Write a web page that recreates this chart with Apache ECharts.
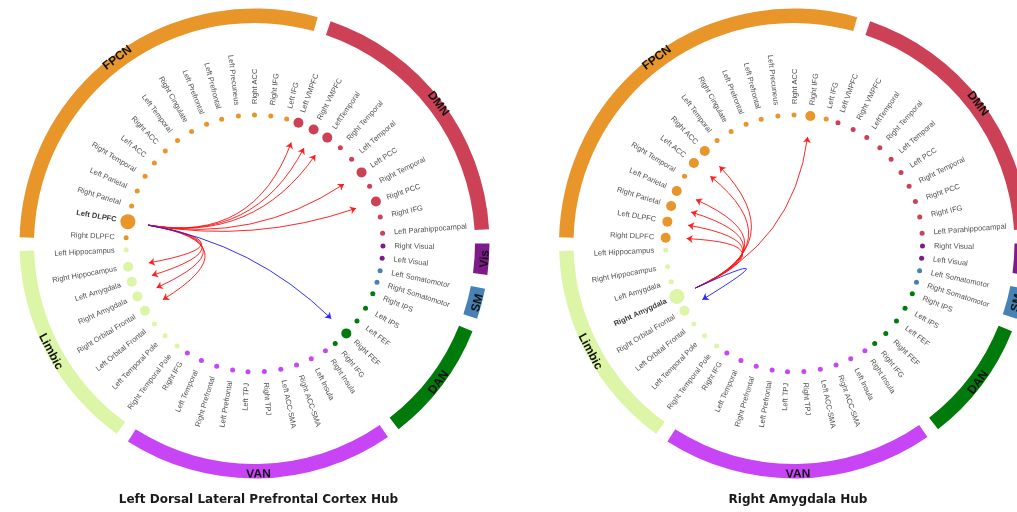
<!DOCTYPE html>
<html><head><meta charset="utf-8">
<script src="https://cdn.jsdelivr.net/npm/echarts@6/dist/echarts.min.js"></script>
<style>html,body{margin:0;padding:0;background:#fff}#c{width:1017px;height:512px}</style>
</head><body><div id="c"></div>
<script>
// ---- data (clockwise from 3 o'clock) ----
const networks = ['Vis', 'SM', 'DAN', 'VAN', 'Limbic', 'FPCN', 'DMN'];

const visNodes = ['Right Visual', 'Left Visual'];
const smNodes = ['Left Somatomotor', 'Right Somatomotor'];
const danNodes = ['Right IPS', 'Left IPS', 'Left FEF', 'Right FEF', 'Right IFG'];
const vanNodes = ['Right Insula', 'Left Insula', 'Right ACC-SMA', 'Left ACC-SMA', 'Right TPJ', 'Left TPJ',
  'Left Prefrontal', 'Right Prefrontal', 'Left Temporal', 'Right IFG'];
const limbicNodes = ['Right Temporal Pole', 'Left Temporal Pole', 'Left Orbital Frontal', 'Right Orbital Frontal',
  'Right Amygdala', 'Left Amygdala', 'Right Hippocampus', 'Left Hippocampus'];
const fpcnNodes = ['Right DLPFC', 'Left DLPFC', 'Right Parietal', 'Left Parietal', 'Right Temporal', 'Left ACC',
  'Right ACC', 'Left Temporal', 'Right Cingulate', 'Left Prefrontal', 'Left Prefrontal', 'Left Precuneus',
  'Right ACC', 'Right IFG', 'Left IFG'];
const dmnNodes = ['Left VMPFC', 'Right VMPFC', 'LeftTemporal', 'Right Temporal', 'Left Temporal', 'Left PCC',
  'Right Temporal', 'Right PCC', 'Right IFG', 'Left Parahippocampal'];

// angular position of each node, degrees clockwise from 3 o'clock
const visAngles = [1.1, 6.6];
const smAngles = [12.2, 17.6];
const danAngles = [23.0, 30.2, 37.1, 44.4, 51.1];
const vanAngles = [56.5, 63.8, 70.9, 78.2, 85.6, 92.9, 99.8, 107.1, 114.4, 121.5];
const limbicAngles = [127.0, 134.1, 141.2, 148.5, 155.7, 162.7, 169.6, 177.1];
const fpcnAngles = [182.6, 189.8, 197.0, 204.1, 211.6, 218.8, 226.0, 233.2, 240.7, 248.1, 255.2, 262.8, 270.0, 277.3, 284.5];
const dmnAngles = [290.0, 297.4, 304.5, 311.9, 319.1, 326.4, 333.6, 340.9, 348.1, 355.4];

// hubs and their connections [network, region]
const leftTitle = 'Left Dorsal Lateral Prefrontal Cortex Hub';
const leftHub = ['FPCN', 'Left DLPFC'];
const leftPositive = [['DMN', 'Left VMPFC'], ['DMN', 'Right VMPFC'], ['DMN', 'LeftTemporal'], ['DMN', 'Left PCC'],
  ['DMN', 'Right PCC'], ['Limbic', 'Right Hippocampus'], ['Limbic', 'Left Amygdala'], ['Limbic', 'Right Amygdala'],
  ['Limbic', 'Right Orbital Frontal']];
const leftNegative = [['DAN', 'Right FEF']];

const rightTitle = 'Right Amygdala Hub';
const rightHub = ['Limbic', 'Right Amygdala'];
const rightPositive = [['FPCN', 'Right DLPFC'], ['FPCN', 'Left DLPFC'], ['FPCN', 'Right Parietal'], ['FPCN', 'Left Parietal'],
  ['FPCN', 'Left ACC'], ['FPCN', 'Right ACC'], ['FPCN', 'Right IFG']];
const rightNegative = [['Limbic', 'Right Orbital Frontal']];

// ---- styling ----
const netColor = { Vis: '#7f1a8b', SM: '#4682b4', DAN: '#007a0a', VAN: '#c845f6', Limbic: '#dcf5a6', FPCN: '#e8952a', DMN: '#cc4155' };
const netNodes = { Vis: visNodes, SM: smNodes, DAN: danNodes, VAN: vanNodes, Limbic: limbicNodes, FPCN: fpcnNodes, DMN: dmnNodes };
const netAngles = { Vis: visAngles, SM: smAngles, DAN: danAngles, VAN: vanAngles, Limbic: limbicAngles, FPCN: fpcnAngles, DMN: dmnAngles };

const NODE_R = 128.5, LABEL_R = 139.5 / 128.5, ANCHOR_R = 108 / 128.5;
const RING = [220.5, 235], PAD = 1.1;

const allNodes = [];
networks.forEach(n => netNodes[n].forEach((name, i) => allNodes.push({ name, net: n, angle: netAngles[n][i] })));
function findIdx(pair) { return allNodes.findIndex(d => d.net === pair[0] && d.name === pair[1]); }

const option = { animation: false, polar: [], angleAxis: [], radiusAxis: [], series: [], graphic: [] };

function addChart(k, cx, cy, title, hub, pos, neg) {
  const hubIdx = findIdx(hub);
  const targets = pos.concat(neg).map(findIdx);
  option.polar.push({ center: [cx, cy], radius: NODE_R });
  option.angleAxis.push({ polarIndex: k, type: 'value', min: 0, max: 360, startAngle: 0, clockwise: true, show: false });
  option.radiusAxis.push({ polarIndex: k, type: 'value', min: 0, max: 1, show: false });

  // outer network ring
  const first = netAngles[networks[0]][0] - PAD;
  const pie = [];
  let prevEnd = first;
  networks.forEach(n => {
    const a = netAngles[n];
    const s = a[0] - PAD, e = a[a.length - 1] + PAD;
    if (s > prevEnd) pie.push({ value: s - prevEnd, name: 'gap', itemStyle: { color: 'rgba(0,0,0,0)' }, label: { show: false } });
    pie.push({ value: e - s, name: n, itemStyle: { color: netColor[n] } });
    prevEnd = e;
  });
  pie.push({ value: first + 360 - prevEnd, name: 'gap', itemStyle: { color: 'rgba(0,0,0,0)' }, label: { show: false } });
  option.series.push({
    type: 'pie', center: [cx, cy], radius: RING, startAngle: -first, clockwise: true, silent: true,
    avoidLabelOverlap: false, z: 1, data: pie,
    itemStyle: { borderWidth: 0 },
    label: { show: true, position: 'inside', rotate: 'tangential', formatter: '{b}', fontSize: 12, fontWeight: 'bold',
      fontFamily: 'Liberation Sans, Arial, sans-serif', color: '#111' },
    labelLine: { show: false }, emphasis: { disabled: true }
  });

  // edges (quadratic curves bending through the circle centre)
  const mkLink = (t, color) => {
    let d = ((allNodes[t].angle - allNodes[hubIdx].angle) % 360 + 360) % 360;
    const c = -0.5 / Math.tan(d / 2 * Math.PI / 180);
    return { source: hubIdx, target: t, lineStyle: { color, curveness: c } };
  };
  option.series.push({
    type: 'graph', coordinateSystem: 'polar', polarIndex: k, silent: true, z: 2,
    data: allNodes.map((d, i) => ({ id: String(i), value: [ANCHOR_R, d.angle] })),
    links: pos.map(findIdx).map(t => mkLink(t, '#ff1010')).concat(neg.map(findIdx).map(t => mkLink(t, '#1a1aff'))),
    symbolSize: 1, itemStyle: { opacity: 0 }, label: { show: false }, edgeSymbol: ['none', 'arrow'], edgeSymbolSize: 6,
    lineStyle: { width: 1, opacity: 0.9 }, emphasis: { disabled: true }
  });

  // nodes
  option.series.push({
    type: 'scatter', coordinateSystem: 'polar', polarIndex: k, silent: true, clip: false, z: 3,
    data: allNodes.map((d, i) => ({
      value: [1, d.angle],
      symbolSize: i === hubIdx ? 15 : (targets.includes(i) ? 10 : 5),
      itemStyle: { color: netColor[d.net], opacity: 1 }
    }))
  });

  // radial labels
  option.series.push({
    type: 'scatter', coordinateSystem: 'polar', polarIndex: k, silent: true, clip: false, z: 4,
    symbolSize: 1, itemStyle: { color: 'rgba(0,0,0,0)' },
    data: allNodes.map((d, i) => {
      const right = Math.cos(d.angle * Math.PI / 180) >= -1e-6;
      const isHub = i === hubIdx;
      return {
        name: d.name, value: [LABEL_R, d.angle],
        label: {
          show: true, formatter: '{b}', position: right ? 'right' : 'left', distance: 0,
          rotate: right ? -d.angle : 180 - d.angle,
          fontSize: 7.5, fontFamily: 'Liberation Sans, Arial, sans-serif',
          fontWeight: isHub ? 'bold' : 'normal', color: isHub ? '#000' : '#222'
        }
      };
    })
  });

  option.graphic.push({
    type: 'text', x: cx + 4, y: 500, silent: true,
    style: { text: title, font: 'bold 12px "DejaVu Sans", sans-serif', fill: '#1a1a1a',
      align: 'center', verticalAlign: 'middle', textAlign: 'center', textVerticalAlign: 'middle' }
  });
}

addChart(0, 254.5, 243.5, leftTitle, leftHub, leftPositive, leftNegative);
addChart(1, 794, 243.5, rightTitle, rightHub, rightPositive, rightNegative);

const chart = echarts.init(document.getElementById('c'), null, { renderer: 'canvas' });
chart.setOption(option);
</script></body></html>
